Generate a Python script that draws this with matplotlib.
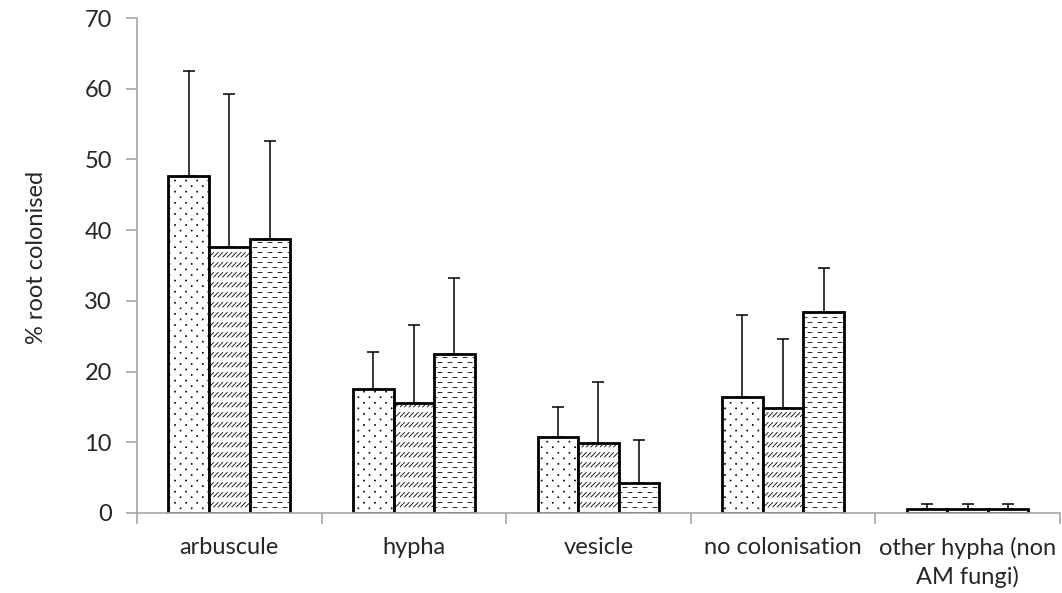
import numpy as np
import matplotlib
matplotlib.use("Agg")
import matplotlib.pyplot as plt
import matplotlib.hatch as mhatch
from matplotlib.path import Path

# ---------------- data ----------------
categories = ["arbuscule", "hypha", "vesicle", "no colonisation", "other hypha (non\nAM fungi)"]
series1 = [47.6, 17.5, 10.7, 16.4, 0.5]
series2 = [37.6, 15.6, 9.9, 14.9, 0.5]
series3 = [38.8, 22.5, 4.3, 28.4, 0.5]
err1 = [14.9, 5.3, 4.3, 11.6, 0.8]
err2 = [21.7, 11.0, 8.6, 9.7, 0.8]
err3 = [13.8, 10.7, 6.0, 6.2, 0.8]
yticks = [0, 10, 20, 30, 40, 50, 60, 70]
ylabel = "% root colonised"


# ---------------- custom hatch patterns (Excel-like) ----------------
class _Base(mhatch.HatchPatternBase):
    char = ""

    def __init__(self, hatch, density):
        self.on = self.char in hatch
        self.segs = self.build() if self.on else []
        self.num_vertices = sum(len(s) for s in self.segs)

    def set_vertices_and_codes(self, vertices, codes):
        k = 0
        for s in self.segs:
            n = len(s)
            vertices[k:k + n] = s
            codes[k] = Path.MOVETO
            codes[k + 1:k + n] = Path.LINETO
            if n == 5:
                codes[k + n - 1] = Path.CLOSEPOLY
            k += n


class DotHatch(_Base):
    char = "o"

    def build(self):
        segs = []
        rows, cols, s = 18, 9, 0.004
        for i in range(rows):
            off = 0.5 / cols if i % 2 else 0.0
            cy = (i + 0.5) / rows
            for j in range(cols):
                cx = (j + 0.25) / cols + off
                segs.append([(cx - s, cy - s), (cx + s, cy - s), (cx + s, cy + s),
                             (cx - s, cy + s), (cx - s, cy - s)])
        return segs


class DiagDashHatch(_Base):
    char = "O"

    def build(self):
        segs = []
        rows, cols, h = 10, 22, 0.045
        for i in range(rows):
            y0 = i / rows + 0.03
            for j in range(-2, cols):
                x0 = j / cols
                segs.append([(x0, y0), (x0 + h, y0 + h)])
        return segs


class HDashHatch(_Base):
    char = "*"

    def build(self):
        segs = []
        rows, cols, L = 20, 10, 0.04
        for i in range(rows):
            y = (i + 0.5) / rows
            off = 0.5 / cols if i % 2 else 0.0
            for j in range(-1, cols):
                x0 = j / cols + off + 0.03
                segs.append([(x0, y), (x0 + L, y)])
        return segs


mhatch._hatch_types[:] = [DotHatch, DiagDashHatch, HDashHatch]

plt.rcParams["font.family"] = ["Lato", "DejaVu Sans"]
plt.rcParams["hatch.linewidth"] = 0.6

fig = plt.figure(figsize=(10.62, 5.93), dpi=100)
ax = fig.add_axes([0.129, 0.135, 0.869, 0.8346])

x = np.arange(len(categories))
w = 0.22
gray = "#a6a6a6"
txt = "#262626"
fs = 17
hatches = ["o", "O", "*"]
for k, (vals, errs) in enumerate([(series1, err1), (series2, err2), (series3, err3)]):
    pos = x + (k - 1) * w
    ax.bar(pos, vals, width=w, color="white", edgecolor="black", linewidth=2.0,
           hatch=hatches[k], zorder=2)
    ax.errorbar(pos, vals, yerr=[np.zeros(len(vals)), errs], fmt="none",
                ecolor="black", elinewidth=1.1, capsize=4.5, capthick=1.1, zorder=3)

ax.set_xlim(-0.5, len(categories) - 0.5)
ax.set_ylim(0, 70)
ax.set_yticks(yticks)
ax.set_yticklabels([str(t) for t in yticks], fontsize=fs, color=txt)
ax.set_xticks(x)
ax.set_xticklabels(categories, fontsize=fs, color=txt, linespacing=1.4)
ax.set_xticks(np.arange(len(categories) + 1) - 0.5, minor=True)
ax.tick_params(axis="x", which="major", length=0, pad=17)
ax.tick_params(axis="x", which="minor", length=8, color=gray, width=1.2)
ax.tick_params(axis="y", length=8, color=gray, width=1.2, pad=10)

for side in ["top", "right"]:
    ax.spines[side].set_visible(False)
ax.spines["left"].set_color(gray)
ax.spines["bottom"].set_color(gray)
ax.spines["left"].set_linewidth(1.2)
ax.spines["bottom"].set_linewidth(1.2)

ax.set_ylabel(ylabel, fontsize=fs, color=txt)
ax.yaxis.set_label_coords(-0.098, 0.517)

fig.savefig("out.png", dpi=100)
